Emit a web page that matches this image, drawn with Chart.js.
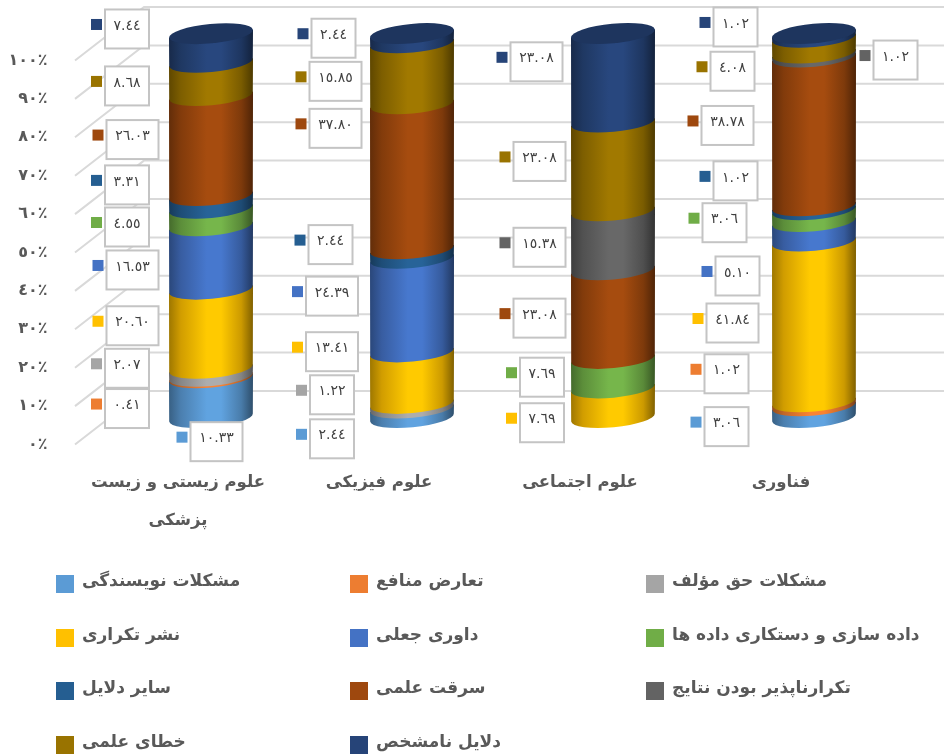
<!DOCTYPE html>
<html>
<head>
<meta charset="utf-8">
<title>chart</title>
<script src="https://cdn.jsdelivr.net/npm/chart.js@4"></script>
<style>
  html, body { margin: 0; padding: 0; background: #ffffff; }
  canvas { display: block; }
</style>
</head>
<body>
<canvas id="c" width="944" height="755"></canvas>
<script>
// categories and tick labels
var categories = [["علوم زیستی و زیست", "پزشکی"], "علوم فیزیکی", "علوم اجتماعی", "فناوری"];
var percentTicks = ["٠٪", "١٠٪", "٢٠٪", "٣٠٪", "٤٠٪", "٥٠٪", "٦٠٪", "٧٠٪", "٨٠٪", "٩٠٪", "١٠٠٪"];

// series values, bottom of the stack first
var writingProblems = [10.33, 2.44, 0, 3.06];
var conflictOfInterest = [0.41, 0, 0, 1.02];
var copyrightProblems = [2.07, 1.22, 0, 0];
var duplicatePublication = [20.60, 13.41, 7.69, 41.84];
var fakeReview = [16.53, 24.39, 0, 5.10];
var dataFabrication = [4.55, 0, 7.69, 3.06];
var otherReasons = [3.31, 2.44, 0, 1.02];
var plagiarism = [26.03, 37.80, 23.08, 38.78];
var irreproducible = [0, 0, 15.38, 1.02];
var scientificError = [8.68, 15.85, 23.08, 4.08];
var unknownReasons = [7.44, 2.44, 23.08, 1.02];

var seriesValues = [writingProblems, conflictOfInterest, copyrightProblems, duplicatePublication, fakeReview,
  dataFabrication, otherReasons, plagiarism, irreproducible, scientificError, unknownReasons];
var seriesNames = ["مشکلات نویسندگی", "تعارض منافع", "مشکلات حق مؤلف", "نشر تکراری", "داوری جعلی",
  "داده سازی و دستکاری داده ها", "سایر دلایل", "سرقت علمی", "تکرارناپذیر بودن نتایج", "خطای علمی", "دلایل نامشخص"];
var seriesColors = ["#5B9BD5", "#ED7D31", "#A5A5A5", "#FFC000", "#4472C4", "#70AD47", "#255E91", "#9E480E", "#636363", "#997300", "#264478"];

// where each value box sits, dx/dy from the middle of its segment
var boxOffsets = [
  [[5.5, 44], [-80, 26], null, [-87.5, 15]],
  [[-84, 31.5], null, null, [-87.5, -30]],
  [[-84, -4], [-80, -11], null, null],
  [[-78.5, -3], [-80, -26], [-71, 20], [-81.5, 1.5]],
  [[-78.5, 12.5], [-80, -9], null, [-76.5, 44.6]],
  [[-84, 10], null, [-71, 4], [-89.5, 7]],
  [[-84, -17], [-81.5, -9], null, [-78.5, -27]],
  [[-78.5, -6], [-76.5, -48], [-73.5, 4], [-86.5, -6]],
  [null, null, [-73.5, 7], [81.5, 5]],
  [[-84, 7], [-76.5, 8], [-73.5, -5], [-81.5, 26]],
  [[-84, -19], [-78.5, 0], [-76.5, -16], [-78.5, -8.5]]
];

var FONT = '"DejaVu Sans", sans-serif';

function arabicDigits(v) {
  var digits = "٠١٢٣٤٥٦٧٨٩";
  return v.toFixed(2).replace(/\d/g, function(d) { return digits[d]; });
}

function shade(hex, f) {
  var n = parseInt(hex.slice(1), 16);
  var r = Math.min(255, Math.round((n >> 16) * f));
  var g = Math.min(255, Math.round(((n >> 8) & 255) * f));
  var b = Math.min(255, Math.round((n & 255) * f));
  return "rgb(" + r + "," + g + "," + b + ")";
}

function cylinderFill(ctx, color, left, right) {
  var g = ctx.createLinearGradient(left, 0, right, 0);
  g.addColorStop(0, shade(color, 0.62));
  g.addColorStop(0.14, shade(color, 0.82));
  g.addColorStop(0.45, shade(color, 1.05));
  g.addColorStop(0.62, shade(color, 1.05));
  g.addColorStop(0.86, shade(color, 0.8));
  g.addColorStop(1, shade(color, 0.5));
  return g;
}

var TILT = 0.095;   // the ellipses lean up to the right
var RY = 9.7;

// back wall, side wall and the cylinders
var cylinders = {
  id: "cylinders",
  beforeDatasetsDraw: function(chart) {
    var ctx = chart.ctx;
    var y = chart.scales.y;
    ctx.save();
    ctx.strokeStyle = "#d9d9d9";
    ctx.lineWidth = 2;
    for (var t = 0; t <= 100; t += 10) {
      var py = y.getPixelForValue(t);
      ctx.beginPath();
      ctx.moveTo(75, py + 27);
      ctx.lineTo(144, py - 26.5);
      ctx.lineTo(944, py - 26.5);
      ctx.stroke();
    }
    var topEl = {};
    for (var i = 0; i < seriesValues.length; i++) {
      var bars = chart.getDatasetMeta(i).data;
      for (var j = 0; j < bars.length; j++) {
        if (!seriesValues[i][j]) continue;
        var b = bars[j];
        var rx = b.width / 2;
        var dy = rx * TILT;
        ctx.fillStyle = cylinderFill(ctx, seriesColors[i], b.x - rx, b.x + rx);
        ctx.beginPath();
        ctx.ellipse(b.x, b.base, rx, RY, -TILT, 0, Math.PI);
        ctx.lineTo(b.x - rx, b.y + dy);
        ctx.lineTo(b.x + rx, b.y - dy);
        ctx.closePath();
        ctx.fill();
        topEl[j] = { bar: b, color: seriesColors[i] };
      }
    }
    for (var k in topEl) {
      var e = topEl[k];
      ctx.fillStyle = shade(e.color, 0.78);
      ctx.beginPath();
      ctx.ellipse(e.bar.x, e.bar.y, e.bar.width / 2, RY, -TILT, 0, Math.PI * 2);
      ctx.fill();
    }
    ctx.restore();
    return false;
  },
  afterDraw: function(chart) {
    var ctx = chart.ctx;
    ctx.save();
    // value boxes
    for (var i = 0; i < seriesValues.length; i++) {
      var bars = chart.getDatasetMeta(i).data;
      for (var j = 0; j < bars.length; j++) {
        if (!seriesValues[i][j]) continue;
        var b = bars[j];
        var off = boxOffsets[i][j];
        var cx = b.x + off[0];
        var cy = (b.y + b.base) / 2 + off[1];
        var w = seriesValues[i][j] >= 10 ? 52 : 44;
        var h = 39;
        ctx.fillStyle = "#ffffff";
        ctx.strokeStyle = "#c4c4c4";
        ctx.lineWidth = 2;
        ctx.fillRect(cx - w / 2, cy - h / 2, w, h);
        ctx.strokeRect(cx - w / 2, cy - h / 2, w, h);
        ctx.fillStyle = seriesColors[i];
        ctx.fillRect(cx - w / 2 - 14, cy - 10, 11, 11);
        ctx.fillStyle = "#404040";
        ctx.font = "14px " + FONT;
        ctx.textAlign = "center";
        ctx.textBaseline = "middle";
        ctx.fillText(arabicDigits(seriesValues[i][j]), cx, cy - 3);
      }
    }
    // legend, three columns
    var colX = [56, 350, 646];
    var rowY = [584, 638, 691, 745];
    ctx.font = "bold 17px " + FONT;
    ctx.textAlign = "left";
    ctx.textBaseline = "middle";
    for (var n = 0; n < seriesNames.length; n++) {
      var lx = colX[n % 3];
      var ly = rowY[Math.floor(n / 3)];
      ctx.fillStyle = seriesColors[n];
      ctx.fillRect(lx, ly - 9, 18, 18);
      ctx.fillStyle = "#595959";
      ctx.fillText(seriesNames[n], lx + 26, ly - 2);
    }
    ctx.restore();
  }
};

var datasets = [];
for (var s = 0; s < seriesValues.length; s++) {
  datasets.push({
    label: seriesNames[s],
    data: seriesValues[s],
    backgroundColor: seriesColors[s],
    categoryPercentage: 1,
    barPercentage: 84 / 201
  });
}

new Chart(document.getElementById("c"), {
  type: "bar",
  data: { labels: categories, datasets: datasets },
  plugins: [cylinders],
  options: {
    responsive: false,
    animation: false,
    layout: { padding: { top: 33.5, right: 29.5, left: 0, bottom: 0 } },
    plugins: { legend: { display: false }, tooltip: { enabled: false } },
    scales: {
      x: {
        stacked: true,
        grid: { display: false },
        border: { display: false },
        afterFit: function(scale) {
          scale.height = 337.5;
          scale.paddingLeft = 0;
          scale.paddingRight = 0;
        },
        ticks: {
          color: "#595959",
          padding: 38,
          maxRotation: 0,
          labelOffset: -33,
          font: { family: FONT, size: 16.5, weight: "bold", lineHeight: 2.3 }
        }
      },
      y: {
        stacked: true,
        min: 0,
        max: 100,
        grid: { display: false, drawTicks: false },
        border: { display: false },
        afterFit: function(scale) {
          scale.width = 110.5;
          scale.paddingTop = 0;
          scale.paddingBottom = 0;
        },
        ticks: {
          stepSize: 10,
          autoSkip: false,
          color: "#595959",
          padding: 63,
          labelOffset: 27,
          font: { family: FONT, size: 16, weight: "bold" },
          callback: function(v, i) { return percentTicks[i]; }
        }
      }
    }
  }
});
</script>
</body>
</html>
